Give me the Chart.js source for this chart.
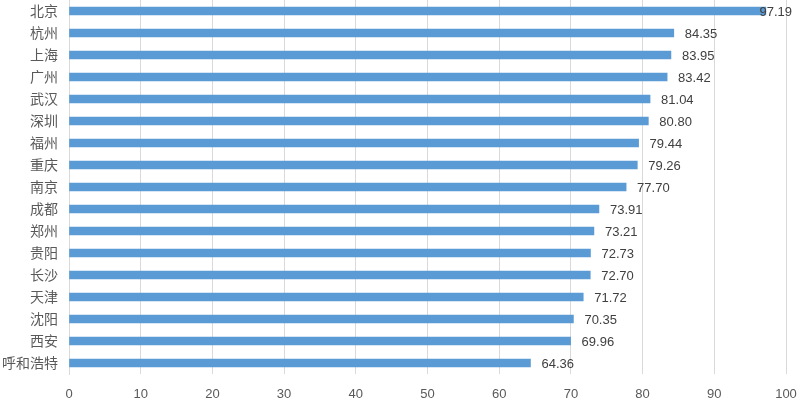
<!DOCTYPE html>
<html>
<head>
<meta charset="utf-8">
<script src="https://cdn.jsdelivr.net/npm/chart.js@4/dist/chart.umd.min.js"></script>
<style>
  html, body { margin: 0; padding: 0; background: #fff; }
  #wrap { width: 798px; height: 398px; }
</style>
</head>
<body>
<div id="wrap"><canvas id="chart"></canvas></div>
<script>
const cities = ['北京', '杭州', '上海', '广州', '武汉', '深圳', '福州', '重庆', '南京',
    '成都', '郑州', '贵阳', '长沙', '天津', '沈阳', '西安', '呼和浩特'];
const scores = [97.19, 84.35, 83.95, 83.42, 81.04, 80.80, 79.44, 79.26, 77.70,
    73.91, 73.21, 72.73, 72.70, 71.72, 70.35, 69.96, 64.36];
const xTicks = [0, 10, 20, 30, 40, 50, 60, 70, 80, 90, 100];

const fontFamily = '"Noto Sans CJK SC", "Liberation Sans", sans-serif';

// draw the value at the end of each bar
const valueLabels = {
    id: 'valueLabels',
    afterDatasetsDraw(chart) {
        const ctx = chart.ctx;
        const meta = chart.getDatasetMeta(0);
        ctx.save();
        ctx.font = '13px "Liberation Sans", sans-serif';
        ctx.fillStyle = '#404040';
        ctx.textBaseline = 'middle';
        meta.data.forEach((bar, i) => {
            const txt = scores[i].toFixed(2);
            const w = ctx.measureText(txt).width;
            let x = bar.x + 11;
            if (x + w > chart.width - 6) x = chart.width - 6 - w;
            ctx.fillText(txt, x, bar.y + 1);
        });
        ctx.restore();
    }
};

new Chart(document.getElementById('chart'), {
    type: 'bar',
    data: {
        labels: cities,
        datasets: [{
            data: scores,
            backgroundColor: '#5b9bd5',
            barThickness: 8
        }]
    },
    plugins: [valueLabels],
    options: {
        indexAxis: 'y',
        responsive: true,
        maintainAspectRatio: false,
        animation: false,
        layout: { padding: { top: 0, right: 12, bottom: 0, left: 0 } },
        plugins: {
            legend: { display: false },
            tooltip: { enabled: false }
        },
        scales: {
            x: {
                min: 0,
                max: 100,
                afterBuildTicks: s => { s.ticks = xTicks.map(v => ({ value: v })); },
                afterFit: s => { s.height = 24; s.paddingLeft = 0; s.paddingRight = 0; },
                grid: { color: '#d9d9d9', drawTicks: false },
                border: { display: false },
                ticks: {
                    color: '#595959',
                    padding: 13,
                    maxRotation: 0,
                    font: { size: 13, family: '"Liberation Sans", sans-serif' }
                }
            },
            y: {
                afterFit: s => { s.width = 69; s.paddingTop = 0; s.paddingBottom = 0; },
                grid: { display: false, drawTicks: false },
                border: { display: true, color: '#d9d9d9' },
                ticks: {
                    color: '#595959',
                    padding: 11,
                    font: { size: 14, family: fontFamily }
                }
            }
        }
    }
});
</script>
</body>
</html>
